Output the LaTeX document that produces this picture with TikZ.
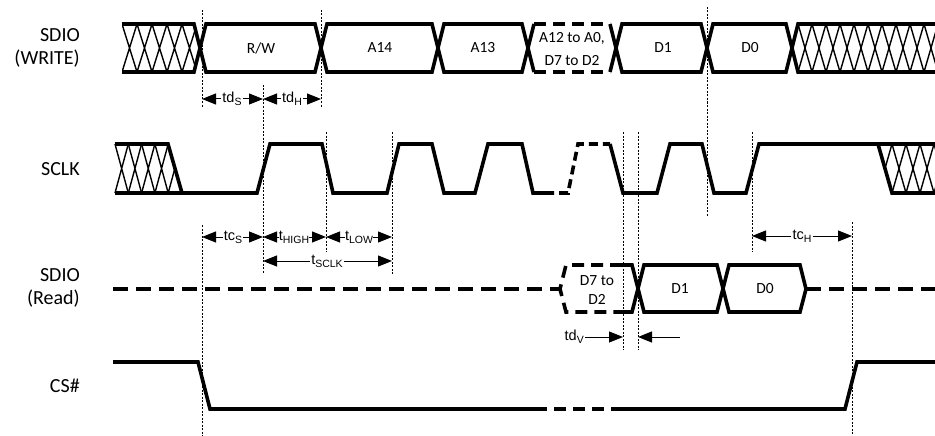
\documentclass[tikz,border=0pt]{standalone}
\usepackage{fontspec}
\setmainfont{Carlito}
\newfontfamily\arialfont{Liberation Sans}
\usetikzlibrary{arrows.meta}
\newcommand\tsb[2]{#1{\fontsize{10.5}{11}\selectfont\raisebox{-2.8pt}{#2}}}
\begin{document}
\begin{tikzpicture}[x=1pt,y=-1pt,
  wave/.style={line width=3.6pt},
  dashwave/.style={line width=3.6pt, dash pattern=on 12pt off 7pt},
  hatchline/.style={line width=1.4pt},
  guide/.style={line width=0.9pt, dash pattern=on 2pt off 1.5pt},
  dim/.style={line width=1pt, -{Triangle[length=14pt,width=11pt]}},
  rowlabel/.style={font=\fontsize{20}{23}\selectfont, align=right, anchor=east, inner sep=0pt},
  boxlabel/.style={font=\fontsize{15.5}{23}\selectfont, align=center, inner sep=0pt},
  tlabel/.style={font=\arialfont\fontsize{14.5}{16}\selectfont, inner sep=1pt}]
\useasboundingbox (0,0) rectangle (935,436);

% guide coordinates
\coordinate (g202) at (202,0);
\coordinate (g263) at (263,0);
\coordinate (g321) at (321,0);
\coordinate (g326) at (326,0);
\coordinate (g392) at (392,0);
\coordinate (g623) at (623,0);
\coordinate (g638) at (638,0);
\coordinate (g707) at (707,0);
\coordinate (g752) at (752,0);
\coordinate (g852) at (852,0);

% dotted guides
\draw[guide] (202,10) -- (202,108);
\draw[guide] (202,225) -- (202,436);
\draw[guide] (263,85) -- (263,273);
\draw[guide] (321,10) -- (321,108);
\draw[guide] (326,132) -- (326,252);
\draw[guide] (392,132) -- (392,275);
\draw[guide] (623,132) -- (623,350);
\draw[guide] (638,132) -- (638,350);
\draw[guide] (707,7) -- (707,217);
\draw[guide] (752,132) -- (752,252);
\draw[guide] (852,222) -- (852,436);

% row labels
\node[rowlabel] (lw) at (80,48) {SDIO\\(WRITE)};
\node[rowlabel] (lc) at (80,169) {SCLK};
\node[rowlabel] (lr) at (80,288) {SDIO\\(Read)};
\node[rowlabel] (ls) at (80,386) {CS\#};

% ---------- SDIO (WRITE) ----------
\begin{scope}
\clip (122,24) -- (194,24) -- (200,48) -- (194,72) -- (122,72) -- cycle;
\foreach \k in {0,...,5} {
  \draw[hatchline] ({122+15*\k},24) -- ({137+15*\k},72) ({137+15*\k},24) -- ({122+15*\k},72);
}
\end{scope}
\begin{scope}
\clip (792,48) -- (798,24) -- (940,24) -- (940,72) -- (798,72) -- cycle;
\foreach \k in {-1,...,10} {
  \draw[hatchline] ({798+14*\k},24) -- ({812+14*\k},72) ({812+14*\k},24) -- ({798+14*\k},72);
}
\end{scope}
\draw[wave] (122,24) -- (194,24) -- (206,72) -- (315,72) -- (327,24) -- (432,24) -- (444,72) -- (522,72) -- (534,24);
\draw[wave] (122,72) -- (194,72) -- (206,24) -- (315,24) -- (327,72) -- (432,72) -- (444,24) -- (522,24) -- (534,72);
\draw[dashwave] (534,24) -- (610,24);
\draw[dashwave] (534,72) -- (610,72);
\draw[wave] (610,24) -- (622,72) -- (701,72) -- (713,24) -- (786,24) -- (798,72) -- (936,72);
\draw[wave] (610,72) -- (622,24) -- (701,24) -- (713,72) -- (786,72) -- (798,24) -- (936,24);

\node[boxlabel] (brw) at (261,48) {R/W};
\node[boxlabel] (ba14) at (380,48) {A14};
\node[boxlabel] (ba13) at (483,48) {A13};
\node[boxlabel] (bmid) at (572,49) {A12 to A0,\\D7 to D2};
\node[boxlabel] (bd1) at (663,48) {D1};
\node[boxlabel] (bd0) at (750,48) {D0};

% tdS / tdH
\node[tlabel] (tds) at (232,99) {\tsb{td}{S}};
\node[tlabel] (tdh) at (292,99) {\tsb{td}{H}};
\draw[dim] (tds.west) -- (tds.west -| g202);
\draw[dim] (tds.east) -- (tds.east -| g263);
\draw[dim] (tdh.west) -- (tdh.west -| g263);
\draw[dim] (tdh.east) -- (tdh.east -| g321);

% ---------- SCLK ----------
\begin{scope}
\clip (114,144) -- (168,144) -- (182,193) -- (114,193) -- cycle;
\foreach \k in {0,...,5} {
  \draw[hatchline] ({115+13.3*\k},144) -- ({128.3+13.3*\k},193) ({128.3+13.3*\k},144) -- ({115+13.3*\k},193);
}
\end{scope}
\begin{scope}
\clip (878,144) -- (940,144) -- (940,193) -- (892,193) -- cycle;
\foreach \k in {0,...,4} {
  \draw[hatchline] ({878+14*\k},144) -- ({892+14*\k},193) ({892+14*\k},144) -- ({878+14*\k},193);
}
\end{scope}
\draw[wave] (115,193) -- (182,193);
\draw[wave] (115,144) -- (168,144) -- (182,193) -- (257,193) -- (270,144) -- (322,144) -- (333,193) -- (387,193) -- (399,144) -- (432,144) -- (444,193) -- (475,193) -- (488,144) -- (522,144) -- (533,193) -- (545,193);
\draw[line width=3.6pt, dash pattern=on 9pt off 5pt] (545,193) -- (568,193) -- (578,144) -- (610,144);
\draw[wave] (610,144) -- (623,193) -- (657,193) -- (670,144) -- (702,144) -- (714,193) -- (746,193) -- (759,144) -- (936,144);
\draw[wave] (878,144) -- (892,193) -- (936,193);

% tcS, tHIGH, tLOW, tSCLK, tcH
\node[tlabel] (tcs) at (233,237) {\tsb{tc}{S}};
\node[tlabel, inner sep=0pt] (thi) at (294,237) {\tsb{t}{HIGH}};
\node[tlabel, inner sep=0pt] (tlo) at (359,237) {\tsb{t}{LOW}};
\node[tlabel] (tsc) at (327,261) {\tsb{t}{SCLK}};
\node[tlabel] (tch) at (802,236) {\tsb{tc}{H}};
\draw[dim] (tcs.west) -- (tcs.west -| g202);
\draw[dim] (tcs.east) -- (tcs.east -| g263);
\draw[dim] (thi.west) -- (thi.west -| g263);
\draw[dim] (thi.east) -- (thi.east -| g326);
\draw[dim] (tlo.west) -- (tlo.west -| g326);
\draw[dim] (tlo.east) -- (tlo.east -| g392);
\draw[dim] (tsc.west) -- (tsc.west -| g263);
\draw[dim] (tsc.east) -- (tsc.east -| g392);
\draw[dim] (tch.west) -- (tch.west -| g752);
\draw[dim] (tch.east) -- (tch.east -| g852);

% ---------- SDIO (Read) ----------
\draw[line width=3.6pt, dash pattern=on 15pt off 8pt] (113,289) -- (560,289);
\draw[dashwave] (622,265) -- (566,265) -- (560,289) -- (566,312) -- (622,312);
\draw[wave] (622,265) -- (632,265) -- (644,312) -- (717,312) -- (729,265) -- (800,265) -- (806,289);
\draw[wave] (622,312) -- (632,312) -- (644,265) -- (717,265) -- (729,312) -- (800,312) -- (806,289);
\draw[line width=3.6pt, dash pattern=on 15pt off 8pt] (806,289) -- (936,289);

\node[boxlabel, font=\fontsize{15.5}{19}\selectfont] (rd72) at (597,290) {D7 to\\D2};
\node[boxlabel] (rd1) at (680,289) {D1};
\node[boxlabel] (rd0) at (765,289) {D0};

% tdV
\node[tlabel, anchor=east] (tdv) at (585,337) {\tsb{td}{V}};
\coordinate (tdvend) at (680,337);
\draw[dim] (tdv.east) -- (tdv.east -| g623);
\draw[dim] (tdvend) -- (tdvend -| g638);

% ---------- CS# ----------
\draw[wave] (113,362) -- (198,362) -- (210,409) -- (535,409);
\draw[dashwave] (535,409) -- (612,409);
\draw[wave] (612,409) -- (845,409) -- (857,362) -- (936,362);
\end{tikzpicture}
\end{document}
